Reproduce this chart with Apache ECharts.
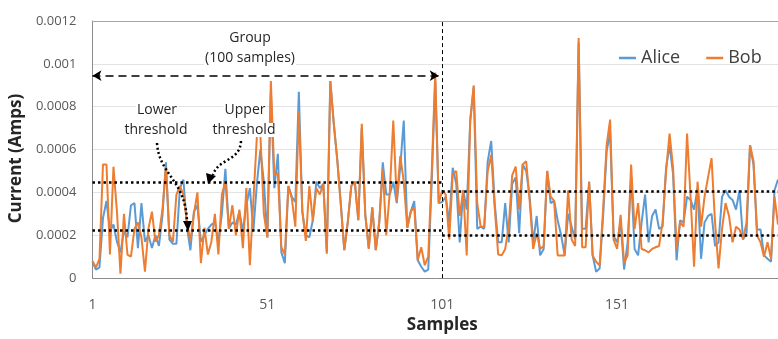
<!DOCTYPE html>
<html>
<head>
<meta charset="utf-8">
<script src="https://cdn.jsdelivr.net/npm/echarts@6/dist/echarts.min.js"></script>
<style>
html,body{margin:0;padding:0;background:#fff;}
#chart{width:778px;height:339px;}
</style>
</head>
<body>
<div id="chart"></div>
<script>
// Values in units of 1e-4 A
const aliceE4 = [
0.75,0.4,0.5,2.8,3.6,2.2,2.5,1.7,1.2,2.2,
1.9,3.4,3.5,1.4,3.5,1.7,2.0,1.4,2.0,1.5,
2.9,5.4,1.8,1.6,1.6,4.2,4.6,2.4,1.3,3.1,
3.4,1.7,2.0,2.3,2.5,2.6,1.7,3.0,5.1,2.3,
2.6,2.5,3.1,2.2,3.4,4.2,2.2,4.4,6.0,4.5,
1.9,8.7,4.2,5.8,1.2,0.7,4.3,3.8,3.55,8.7,
3.1,2.0,1.9,2.7,4.5,4.2,4.4,1.2,9.2,7.2,
5.5,3.5,1.3,2.6,4.3,4.5,2.7,7.0,2.95,1.4,
3.3,1.3,2.6,5.4,3.9,3.9,4.5,3.5,5.2,7.35,
2.35,3.1,3.6,0.83,0.53,0.3,0.4,4.5,9.2,3.5,
3.55,3.8,2.6,5.15,4.4,1.67,4.1,3.2,7.3,8.9,
2.3,2.4,2.3,5.45,6.4,3.5,1.67,1.67,3.5,1.67,
4.4,4.7,2.1,5.3,5.0,3.8,1.67,2.9,1.06,1.36,
5.0,3.5,3.6,2.7,2.0,1.06,3.0,2.4,1.8,11.0,
2.3,2.3,4.5,1.06,0.3,0.45,2.9,5.9,6.8,1.95,
1.67,2.6,0.4,1.67,4.7,1.36,1.06,2.6,3.9,1.67,
2.9,3.2,2.3,2.4,5.15,6.2,4.85,0.83,2.7,2.6,
3.8,3.65,3.2,4.2,0.9,2.6,2.9,3.0,1.5,1.67,
3.8,4.1,3.8,3.65,3.2,4.1,1.8,2.1,6.2,5.3,
2.27,2.27,1.06,0.9,0.76,4.1,4.6
];
const bobE4 = [
0.8,0.5,0.9,5.3,5.3,1.1,5.2,3.1,0.2,3.0,
1.1,1.0,2.3,2.6,1.9,0.3,2.3,3.1,1.7,2.0,
3.2,5.2,2.0,1.7,3.9,4.3,3.9,2.65,1.7,3.0,
4.0,0.7,2.35,1.1,1.7,3.0,1.1,3.9,4.5,2.3,
3.4,2.0,3.2,1.4,4.2,0.6,3.6,6.6,6.7,3.0,
1.9,9.2,4.8,4.9,1.44,1.1,4.3,3.7,2.4,7.8,
3.1,1.74,4.3,2.65,4.2,3.9,4.4,1.14,9.2,7.2,
5.5,3.4,1.3,2.65,4.3,4.5,2.7,7.2,2.95,1.36,
3.3,1.3,2.65,5.1,2.0,4.0,7.35,3.6,5.7,4.5,
2.35,3.1,3.3,0.83,1.44,0.6,1.0,5.0,9.6,3.5,
4.1,3.9,1.8,4.85,5.0,2.9,4.1,1.06,7.4,9.0,
3.5,2.4,2.4,5.0,5.75,3.3,1.1,1.06,1.36,2.4,
4.8,5.2,3.2,5.3,5.45,3.6,1.36,2.1,1.36,1.5,
5.0,3.8,3.6,1.06,1.06,1.06,4.1,1.8,1.5,11.2,
1.44,1.44,4.5,1.06,0.76,0.6,3.2,6.2,7.4,1.8,
1.36,2.95,0.7,1.06,5.3,2.3,3.5,1.36,1.3,1.2,
1.36,1.44,1.5,2.6,5.0,6.75,5.15,1.36,2.6,2.4,
6.75,3.8,0.53,4.5,2.4,3.8,4.7,5.6,2.6,0.45,
2.3,3.5,2.9,1.67,2.4,2.27,1.8,2.6,6.2,5.45,
2.0,1.67,1.0,1.67,0.9,3.8,2.5
];
const categories = aliceE4.map((_, i) => String(i + 1));
const xTickLabels = ['1', '51', '101', '151'];
const yTickLabels = ['0', '0.0002', '0.0004', '0.0006', '0.0008', '0.001', '0.0012'];
const seriesNames = ['Alice', 'Bob'];
// thresholds: [startCategory, endCategory, upper, lower]
const group1 = ['1', '101', 0.000447, 0.000224];
const group2 = ['101', '197', 0.000405, 0.000200];
const groupArrowY = 0.000945;
const groupArrowEnds = ['1', '100'];
const dividerAt = '101';

const alice = aliceE4.map(v => +(v * 1e-4).toFixed(7));
const bob = bobE4.map(v => +(v * 1e-4).toFixed(7));

const chart = echarts.init(document.getElementById('chart'), null, {renderer: 'canvas'});
const txt = '#262626';
const font = "'Open Sans', 'Noto Sans', sans-serif";
const dotted = {color: '#000', width: 2.5, type: [2.5, 3]};
const annFont = "14px 'Open Sans'";
function label(text, x, y) {
  return {type: 'text', z: 20, x: x, y: y,
    style: {text: text, x: 0, y: 0, align: 'center', verticalAlign: 'middle', font: annFont, fill: txt,
            backgroundColor: '#fff', padding: [0, 1]}};
}

const option = {
  animation: false,
  backgroundColor: '#fff',
  textStyle: {fontFamily: font},
  grid: {left: 89, right: 0, top: 21, bottom: 54, containLabel: false},
  legend: {
    data: seriesNames,
    left: 614, top: 44,
    icon: 'rect',
    itemWidth: 17, itemHeight: 2.5, itemGap: 26,
    textStyle: {fontSize: 18, color: '#404040', fontFamily: font}
  },
  xAxis: [{
    type: 'category', data: categories, boundaryGap: false,
    axisLine: {lineStyle: {color: '#8c8c8c'}},
    axisTick: {show: false},
    axisLabel: {
      interval: (idx, val) => xTickLabels.includes(val),
      color: '#595959', fontSize: 14, margin: 20, fontFamily: font
    },
    splitLine: {show: false},
    name: 'Samples', nameLocation: 'middle', nameGap: 37,
    nameTextStyle: {fontSize: 17, fontWeight: 'bold', color: txt, fontFamily: font, padding: [0, 0, 0, 14]}
  }, {
    type: 'category', data: categories, boundaryGap: false, position: 'top',
    axisLine: {lineStyle: {color: '#a6a6a6'}}, axisTick: {show: false},
    axisLabel: {show: false}, splitLine: {show: false}
  }],
  yAxis: {
    type: 'value', min: 0, max: 0.0012, interval: 0.0002,
    axisLine: {show: true, lineStyle: {color: '#8c8c8c'}},
    axisTick: {show: false},
    axisLabel: {
      color: '#595959', fontSize: 13, margin: 16, fontFamily: font,
      formatter: v => yTickLabels[Math.round(v / 0.0002)]
    },
    splitLine: {lineStyle: {color: '#e3e3e3'}},
    name: 'Current (Amps)', nameLocation: 'middle', nameGap: 60,
    nameTextStyle: {fontSize: 17, fontWeight: 'bold', color: txt, fontFamily: font, padding: [0, 18, 0, 0]}
  },
  series: [
    {name: seriesNames[0], type: 'line', data: alice, symbol: 'none',
     lineStyle: {color: '#5B9BD5', width: 2}, itemStyle: {color: '#5B9BD5'}},
    {name: seriesNames[1], type: 'line', data: bob, symbol: 'none',
     lineStyle: {color: '#ED7D31', width: 2}, itemStyle: {color: '#ED7D31'}},
    {name: 'annot', type: 'line', data: [], z: 5, silent: true,
     markLine: {
       silent: true, animation: false, symbol: 'none', label: {show: false},
       data: [
         [{coord: [group1[0], group1[2]], lineStyle: dotted}, {coord: [group1[1], group1[2]]}],
         [{coord: [group1[0], group1[3]], lineStyle: dotted}, {coord: [group1[1], group1[3]]}],
         [{coord: [group2[0], group2[2]], lineStyle: dotted}, {coord: [group2[1], group2[2]]}],
         [{coord: [group2[0], group2[3]], lineStyle: dotted}, {coord: [group2[1], group2[3]]}],
         [{xAxis: dividerAt, yAxis: 0, lineStyle: {color: '#000', width: 1, type: [4, 3]}}, {xAxis: dividerAt, yAxis: 0.0012}],
         [{coord: [groupArrowEnds[0], groupArrowY], symbol: 'arrow', symbolSize: [8, 9],
           lineStyle: {color: '#000', width: 1.5, type: [8, 5]}},
          {coord: [groupArrowEnds[1], groupArrowY], symbol: 'arrow', symbolSize: [8, 9]}]
       ]
     }}
  ],
  graphic: [
    label('Group', 250, 38),
    label('(100 samples)', 250, 58),
    label('Lower', 157, 110),
    label('threshold', 156, 130),
    label('Upper', 245, 110),
    label('threshold', 244, 130),
    {type: 'bezierCurve', z: 10, shape: {x1: 157, y1: 143, x2: 187, y2: 222, cpx1: 159, cpy1: 175, cpx2: 186, cpy2: 180},
     style: {stroke: '#000', lineWidth: 2.5, lineDash: [2, 2.5], fill: null}},
    {type: 'polygon', z: 10, shape: {points: [[183, 221], [192, 221], [188, 231]]}, style: {fill: '#000'}},
    {type: 'bezierCurve', z: 10, shape: {x1: 241, y1: 141, x2: 213, y2: 175, cpx1: 240, cpy1: 162, cpx2: 218, cpy2: 158},
     style: {stroke: '#000', lineWidth: 2.5, lineDash: [2, 2.5], fill: null}},
    {type: 'polygon', z: 10, shape: {points: [[206, 173], [216, 176], [208, 184]]}, style: {fill: '#000'}}
  ]
};
chart.setOption(option);
</script>
</body>
</html>
